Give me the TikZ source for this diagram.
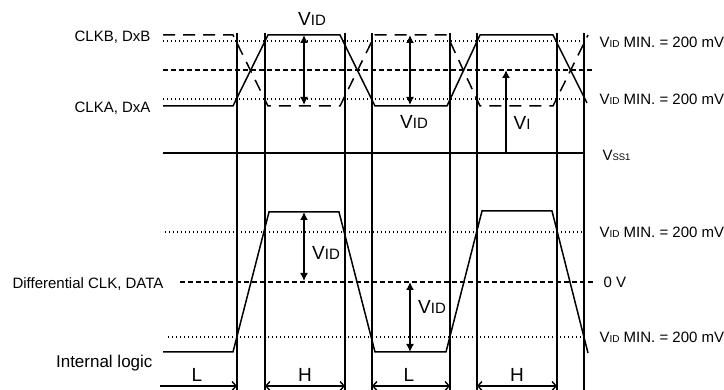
\documentclass[tikz,border=0pt]{standalone}
\usepackage{fontspec}
\setmainfont{Liberation Sans}
\usetikzlibrary{arrows.meta}
\newcommand{\lbl}[1]{{\fontsize{15}{17}\selectfont #1}}
\newcommand{\vsub}[3]{{\fontsize{#1}{#1}\selectfont V}{\fontsize{#2}{#2}\selectfont #3}}
\newcommand{\vmin}{\lbl{\vsub{15}{10}{ID} MIN. = 200 mV}}

\begin{document}
\begin{tikzpicture}[x=1pt, y=-1pt,
    sig/.style={line width=1.5pt, line join=miter},
    compl/.style={line width=1.5pt, dash pattern=on 12pt off 8pt},
    lvl/.style={line width=1.2pt, dash pattern=on 1.4pt off 2.6pt},
    midref/.style={line width=1.5pt, dash pattern=on 4.5pt off 3.5pt},
    tline/.style={line width=1.5pt},
    vid/.style={line width=1.5pt, {Latex[length=8pt,width=8pt]}-{Latex[length=8pt,width=8pt]}},
    span/.style={line width=1.4pt, {Straight Barb[length=4pt,width=9pt]}-{Straight Barb[length=4pt,width=9pt]}}]
    \useasboundingbox (0,0) rectangle (724,390);

    % input pair
    \draw[lvl] (163,41) -- (583,41);
    \draw[lvl] (163,99) -- (583,99);
    \draw[midref] (163,70) -- (595,70);
    \draw[compl] (163,35) -- (233,35) -- (268,106) -- (340,106) -- (375,35) -- (447,35) -- (480,106) -- (553,106) -- (588,35);
    \draw[sig] (163,106) -- (233,106) -- (268,35) -- (340,35) -- (375,106) -- (447,106) -- (480,35) -- (553,35) -- (587,103);
    \draw[tline] (163,153) -- (585,153);
    \node[anchor=east] (clkb) at (154,37) {\lbl{CLKB, DxB}};
    \node[anchor=east] (clka) at (154,108) {\lbl{CLKA, DxA}};

    % switching points
    \foreach \x in {237,265,345,372,450,477,557,584}
        \draw[tline] (\x,33) -- (\x,390);

    % swing arrows
    \draw[vid] (304,35) -- (304,105);
    \draw[vid] (410,35) -- (410,105);
    \draw[line width=1.5pt, -{Latex[length=8pt,width=8pt]}] (506,153) -- (506,70);
    \node (vidtop) at (312,19) {\vsub{19}{15}{ID}};
    \node (vidlow) at (414,122) {\vsub{19}{15}{ID}};
    \node (vi) at (522,123) {\vsub{19}{15}{I}};
    \node[anchor=west] (vss) at (599,155) {\vsub{15}{9.5}{SS1}};
    \node[anchor=west] (mina) at (596,42) {\vmin};
    \node[anchor=west] (minb) at (596,99) {\vmin};

    % differential signal
    \draw[lvl] (165,232) -- (583,232);
    \draw[lvl] (168,337) -- (583,337);
    \draw[midref] (180,282) -- (593,282);
    \draw[sig] (163,352) -- (233,352) -- (269,212) -- (339,212) -- (375,352) -- (446,352) -- (482,211) -- (552,211) -- (588,353);
    \draw[vid] (304,212) -- (304,281);
    \draw[vid] (410,282) -- (410,352);
    \node (vidp) at (326,253) {\vsub{19}{15}{ID}};
    \node (vidn) at (432,307) {\vsub{19}{15}{ID}};
    \node[anchor=east] (diff) at (167,284) {\lbl{Differential CLK, DATA}};
    \node[anchor=west] (zero) at (600,282) {\lbl{0 V}};
    \node[anchor=west] (minc) at (596,232) {\vmin};
    \node[anchor=west] (mind) at (596,337) {\vmin};
    \node[anchor=east] (intl) at (156,363) {{\fontsize{17}{19}\selectfont Internal logic}};

    % output levels
    \draw[line width=1.4pt, -{Straight Barb[length=4pt,width=9pt]}] (160,386) -- (237,386);
    \draw[span] (265,386) -- (345,386);
    \draw[span] (372,386) -- (450,386);
    \draw[span] (477,386) -- (557,386);
    \node (l1) at (197,375) {\fontsize{19}{19}\selectfont L};
    \node (h1) at (305,375) {\fontsize{19}{19}\selectfont H};
    \node (l2) at (409,375) {\fontsize{19}{19}\selectfont L};
    \node (h2) at (517,375) {\fontsize{19}{19}\selectfont H};
\end{tikzpicture}
\end{document}
